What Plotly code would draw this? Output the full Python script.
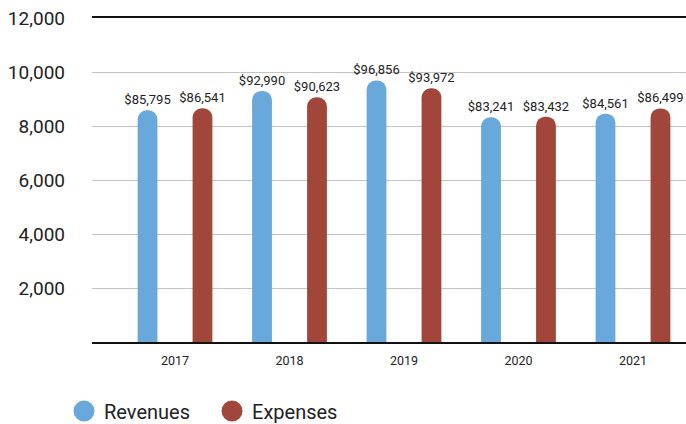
import plotly.graph_objects as go

years = ["2017", "2018", "2019", "2020", "2021"]
revenues = [85795, 92990, 96856, 83241, 84561]
expenses = [86541, 90623, 93972, 83432, 86499]
y_ticks = [2000, 4000, 6000, 8000, 10000, 12000]

BLUE = "#68a8da"
RED = "#a0463a"
FONT = "Roboto, Liberation Sans, sans-serif"

fig = go.Figure()
for name, vals, col in [("Revenues", revenues, BLUE), ("Expenses", expenses, RED)]:
    fig.add_trace(go.Bar(
        x=years, y=[v / 10 for v in vals], name=name, marker_color=col,
        marker_line_width=0,
        text=[f"${v:,}" for v in vals], textposition="outside",
        constraintext="none",
        textfont=dict(size=13, color="#222222", family=FONT),
        cliponaxis=False, showlegend=False, hoverinfo="skip",
    ))
for name, col in [("Revenues", BLUE), ("Expenses", RED)]:
    fig.add_trace(go.Scatter(
        x=[None], y=[None], mode="markers", name=name,
        marker=dict(symbol="circle", size=16, color=col, line=dict(color=col, width=5)),
    ))

fig.update_layout(
    width=686, height=424,
    margin=dict(l=92, r=0, t=18, b=82, autoexpand=False),
    paper_bgcolor="white", plot_bgcolor="white",
    font=dict(family=FONT, color="#222222"),
    barmode="group", bargap=0.04, bargroupgap=0.64, barcornerradius=10,
    legend=dict(
        orientation="h",
        x=-0.0471, xanchor="left", y=-0.213, yanchor="middle",
        font=dict(size=20, family=FONT, color="#222222"),
        itemsizing="trace", entrywidth=103, entrywidthmode="pixels",
        bgcolor="rgba(0,0,0,0)",
    ),
    showlegend=True,
)
fig.update_xaxes(
    type="category", range=[-0.725, 4.463], automargin=False,
    showline=True, mirror=True, linecolor="#111111", linewidth=1.5,
    showgrid=False, ticks="", tickfont=dict(size=12.5, family=FONT, color="#222222"),
    ticklabelstandoff=6,
)
fig.update_yaxes(
    range=[0, 12000], tickvals=y_ticks, tickformat=",d", automargin=False,
    showgrid=True, gridcolor="#c4c4c4", gridwidth=1,
    showline=False, zeroline=False, ticks="",
    tickfont=dict(size=19, family=FONT, color="#222222"),
    ticklabelstandoff=26,
)

fig.write_html(
    "out.html",
    config={"displayModeBar": False},
    post_script="document.body.style.margin='0';document.body.style.overflow='hidden';",
)
